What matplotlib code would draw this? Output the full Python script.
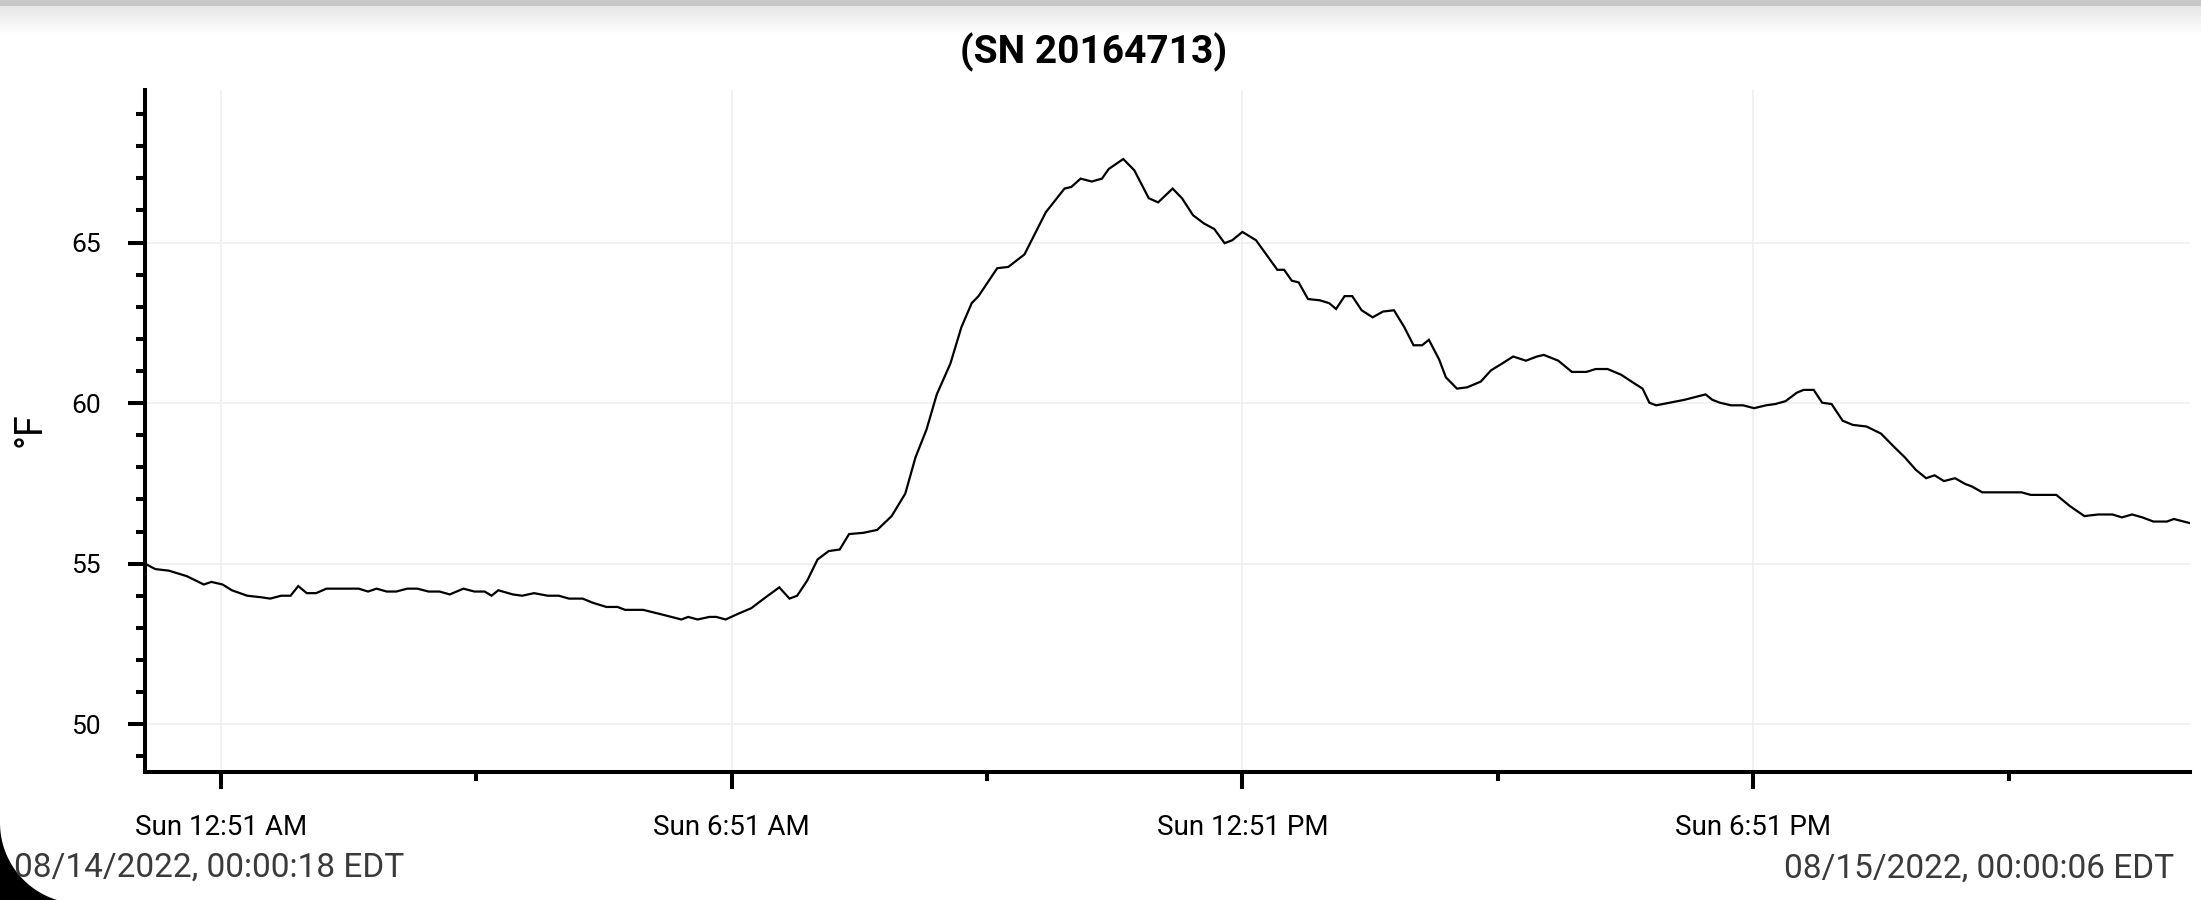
import numpy as np
import matplotlib.pyplot as plt
from matplotlib.patches import Polygon
from matplotlib.ticker import FixedLocator

plt.rcParams['font.family'] = ['Roboto', 'DejaVu Sans']

# hours since 08/14/2022 00:00 EDT and logged temperature (°F)
hours = [0.00, 0.12, 0.28, 0.49, 0.69, 0.78, 0.91, 1.02, 1.20, 1.37, 1.47, 1.60,
         1.71, 1.80, 1.90, 2.01, 2.13, 2.51, 2.62, 2.72, 2.84, 2.95, 3.08, 3.20,
         3.33, 3.46, 3.58, 3.74, 3.87, 3.99, 4.07, 4.15, 4.32, 4.43, 4.57, 4.73,
         4.86, 4.98, 5.14, 5.26, 5.42, 5.55, 5.64, 5.85, 6.05, 6.30, 6.38, 6.49,
         6.63, 6.71, 6.82, 6.96, 7.12, 7.29, 7.45, 7.57, 7.66, 7.78, 7.90, 8.03,
         8.16, 8.27, 8.44, 8.60, 8.77, 8.93, 9.05, 9.18, 9.30, 9.46, 9.59, 9.71,
         9.79, 10.01, 10.14, 10.33, 10.58, 10.80, 10.88, 10.99, 11.12, 11.24, 11.32, 11.49,
         11.62, 11.79, 11.90, 12.07, 12.18, 12.31, 12.44, 12.56, 12.68, 12.77, 12.89, 13.05,
         13.17, 13.30, 13.38, 13.47, 13.55, 13.66, 13.80, 13.91, 13.99, 14.09, 14.18, 14.29,
         14.42, 14.54, 14.67, 14.79, 14.90, 15.00, 15.08, 15.20, 15.28, 15.41, 15.53, 15.69,
         15.81, 15.94, 16.07, 16.22, 16.35, 16.43, 16.60, 16.76, 16.93, 17.04, 17.18, 17.34,
         17.46, 17.59, 17.67, 17.75, 18.08, 18.33, 18.41, 18.50, 18.63, 18.77, 18.90, 19.04,
         19.15, 19.27, 19.40, 19.48, 19.60, 19.70, 19.81, 19.94, 20.06, 20.22, 20.39, 20.55,
         20.67, 20.80, 20.92, 21.02, 21.13, 21.26, 21.38, 21.46, 21.58, 21.71, 22.04, 22.15,
         22.45, 22.61, 22.78, 22.94, 23.11, 23.22, 23.34, 23.46, 23.59, 23.75, 23.83, 24.02]
temps = [55.0, 54.83, 54.78, 54.61, 54.35, 54.43, 54.35, 54.17, 54.0, 53.95, 53.91, 54.0,
         54.0, 54.3, 54.08, 54.08, 54.22, 54.22, 54.13, 54.22, 54.13, 54.13, 54.22, 54.22,
         54.13, 54.13, 54.04, 54.22, 54.13, 54.13, 54.0, 54.17, 54.04, 54.0, 54.08, 54.0,
         54.0, 53.91, 53.91, 53.78, 53.65, 53.65, 53.56, 53.56, 53.43, 53.26, 53.34, 53.26,
         53.34, 53.34, 53.26, 53.43, 53.61, 53.95, 54.26, 53.91, 54.0, 54.48, 55.13, 55.39,
         55.44, 55.92, 55.96, 56.05, 56.48, 57.18, 58.31, 59.18, 60.27, 61.23, 62.37, 63.11,
         63.33, 64.2, 64.24, 64.63, 65.94, 66.68, 66.73, 66.99, 66.9, 66.99, 67.29, 67.6,
         67.25, 66.38, 66.25, 66.68, 66.38, 65.85, 65.59, 65.42, 64.98, 65.07, 65.33, 65.07,
         64.63, 64.15, 64.15, 63.81, 63.76, 63.24, 63.2, 63.11, 62.93, 63.33, 63.33, 62.89,
         62.67, 62.85, 62.89, 62.37, 61.8, 61.8, 61.97, 61.36, 60.8, 60.45, 60.49, 60.67,
         61.02, 61.23, 61.45, 61.32, 61.45, 61.5, 61.32, 60.97, 60.97, 61.06, 61.06, 60.88,
         60.67, 60.45, 60.01, 59.93, 60.1, 60.27, 60.1, 60.01, 59.93, 59.93, 59.84, 59.93,
         59.97, 60.06, 60.32, 60.41, 60.41, 60.01, 59.97, 59.45, 59.32, 59.27, 59.05, 58.62,
         58.31, 57.92, 57.66, 57.75, 57.57, 57.66, 57.48, 57.4, 57.22, 57.22, 57.22, 57.14,
         57.14, 56.79, 56.48, 56.53, 56.53, 56.44, 56.53, 56.44, 56.31, 56.31, 56.39, 56.26]

tick_hours = [0.89, 6.89, 12.89, 18.89]
tick_labels = ['Sun 12:51 AM', 'Sun 6:51 AM', 'Sun 12:51 PM', 'Sun 6:51 PM']
minor_hours = [3.89, 9.89, 15.89, 21.89]
start_label = '08/14/2022, 00:00:18 EDT'
end_label = '08/15/2022, 00:00:06 EDT'

W, H = 2201, 900
fig = plt.figure(figsize=(W / 100, H / 100), dpi=100)
fig.patch.set_facecolor('white')

# top shadow band
band = fig.add_axes([0, 1 - 36 / H, 1, 36 / H], zorder=-5)
grad = np.concatenate([np.full(6, 0.78), np.linspace(0.90, 1.0, 30)])
band.imshow(grad[:, None], aspect='auto', cmap='gray', vmin=0, vmax=1,
            extent=[0, 1, 0, 1])
band.axis('off')

ax = fig.add_axes([145 / W, 128 / H, (2190 - 145) / W, (772 - 90) / H])
ax.plot(hours, temps, color='black', lw=1.6, solid_joinstyle='miter')

ax.set_xlim(0, 24.02)
ax.set_ylim(48.51, 69.75)
ax.set_xticks(tick_hours)
ax.set_xticklabels(tick_labels)
ax.xaxis.set_minor_locator(FixedLocator(minor_hours))
ax.set_yticks([50, 55, 60, 65])
ax.yaxis.set_minor_locator(FixedLocator(np.arange(49, 70, 1)))

ax.grid(True, which='major', color='#efefef', lw=1.2)
ax.set_axisbelow(True)
for s in ['top', 'right']:
    ax.spines[s].set_visible(False)
for s in ['left', 'bottom']:
    ax.spines[s].set_linewidth(2.9)

ax.tick_params(axis='both', which='major', length=12, width=2.9,
               labelsize=19, colors='black')
ax.tick_params(axis='x', which='major', labelsize=20, pad=18)
ax.tick_params(axis='both', which='minor', length=6.5, width=2.9)
ax.tick_params(axis='y', which='major', pad=20)

fig.text(30 / W, 1 - 430 / H, '°F', rotation=90, fontsize=27,
         ha='center', va='center')
fig.text(1094 / W, 1 - 52 / H, '(SN 20164713)', fontsize=28,
         fontweight='bold', ha='center', va='center')
fig.text(14 / W, 1 - 868 / H, start_label, fontsize=24, color='#3a3a3a',
         ha='left', va='center')
fig.text(2174 / W, 1 - 869 / H, end_label, fontsize=24, color='#3a3a3a',
         ha='right', va='center')

# rounded black screen corner at bottom left
t = np.linspace(0, np.arcsin(77 / 80.5), 30)
arc_x = 80.5 - 80.5 * np.cos(t)
arc_y = 823 + 80.5 * np.sin(t)
pts = np.column_stack([np.append(arc_x, 0) / W, 1 - np.append(arc_y, H) / H])
fig.patches.append(Polygon(pts, closed=True, facecolor='black',
                           edgecolor='none', transform=fig.transFigure))

fig.savefig('out.png', dpi=100)
